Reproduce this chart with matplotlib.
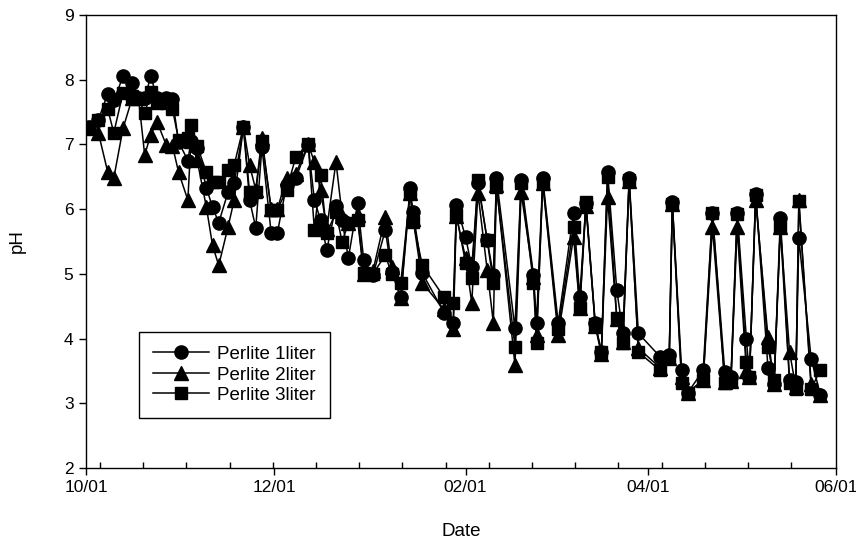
import matplotlib
matplotlib.use("Agg")
import matplotlib.pyplot as plt
import matplotlib.dates as mdates
import numpy as np
import pandas as pd

plt.rcParams['font.family'] = ['Liberation Sans', 'DejaVu Sans']

# sampling dates (Oct 2002 - May 2003)
dates = [
    "2002-10-02", "2002-10-05", "2002-10-08", "2002-10-10", "2002-10-13", "2002-10-16",
    "2002-10-18", "2002-10-20", "2002-10-22", "2002-10-24", "2002-10-27", "2002-10-29",
    "2002-10-31", "2002-11-03", "2002-11-04", "2002-11-06", "2002-11-09", "2002-11-11",
    "2002-11-13", "2002-11-16", "2002-11-18", "2002-11-21", "2002-11-23", "2002-11-25",
    "2002-11-27", "2002-11-30", "2002-12-02", "2002-12-05", "2002-12-08", "2002-12-12",
    "2002-12-14", "2002-12-16", "2002-12-18", "2002-12-21", "2002-12-23", "2002-12-25",
    "2002-12-28", "2002-12-30", "2003-01-02", "2003-01-06", "2003-01-08", "2003-01-11",
    "2003-01-14", "2003-01-15", "2003-01-18", "2003-01-25", "2003-01-28", "2003-01-29",
    "2003-02-01", "2003-02-03", "2003-02-05", "2003-02-08", "2003-02-10", "2003-02-11",
    "2003-02-17", "2003-02-19", "2003-02-23", "2003-02-24", "2003-02-26", "2003-03-03",
    "2003-03-08", "2003-03-10", "2003-03-12", "2003-03-15", "2003-03-17", "2003-03-19",
    "2003-03-22", "2003-03-24", "2003-03-26", "2003-03-29", "2003-04-05", "2003-04-08",
    "2003-04-09", "2003-04-12", "2003-04-14", "2003-04-19", "2003-04-22", "2003-04-26",
    "2003-04-28", "2003-04-30", "2003-05-03", "2003-05-04", "2003-05-06", "2003-05-10",
    "2003-05-12", "2003-05-14", "2003-05-17", "2003-05-19", "2003-05-20", "2003-05-24",
    "2003-05-27",
]

ph_1l = [
    7.27, 7.38, 7.78, 7.68, 8.05, 7.95, 7.72, 7.72, 8.05, 7.72, 7.72, 7.70,
    7.04, 6.75, 7.05, 6.94, 6.33, 6.03, 5.79, 6.26, 6.40, 7.27, 6.14, 5.71,
    6.96, 5.63, 5.63, 6.38, 6.48, 6.99, 6.14, 5.83, 5.37, 6.05, 5.83, 5.24,
    6.09, 5.21, 4.98, 5.68, 5.03, 4.64, 6.33, 5.95, 5.01, 4.40, 4.24, 6.06,
    5.57, 5.10, 6.40, 5.52, 4.98, 6.48, 4.16, 6.45, 4.98, 4.24, 6.48, 4.24,
    5.94, 4.64, 6.09, 4.24, 3.79, 6.58, 4.75, 4.08, 6.48, 4.08, 3.72, 3.74,
    6.11, 3.51, 3.16, 3.51, 5.94, 3.48, 3.40, 5.94, 4.00, 3.40, 6.24, 3.54,
    3.30, 5.87, 3.36, 3.33, 5.55, 3.68, 3.13,
]

ph_2l = [
    7.25, 7.18, 6.58, 6.48, 7.25, 7.72, 7.72, 6.84, 7.15, 7.35, 6.99, 6.98,
    6.57, 6.14, 7.05, 6.76, 6.03, 5.44, 5.13, 5.72, 6.14, 7.27, 6.68, 6.30,
    7.10, 6.00, 6.00, 6.48, 6.55, 7.00, 6.73, 6.30, 5.70, 6.73, 5.90, 5.79,
    5.91, 5.00, 5.05, 5.88, 5.10, 4.62, 6.25, 5.85, 4.86, 4.45, 4.14, 5.90,
    5.24, 4.55, 6.25, 5.06, 4.24, 6.38, 3.59, 6.26, 4.95, 4.05, 6.40, 4.05,
    5.57, 4.47, 6.05, 4.20, 3.76, 6.19, 4.30, 3.95, 6.43, 3.85, 3.55, 3.70,
    6.08, 3.40, 3.16, 3.36, 5.72, 3.33, 3.35, 5.72, 3.50, 3.40, 6.14, 4.02,
    3.30, 5.72, 3.79, 3.25, 6.14, 3.30, 3.13,
]

ph_3l = [
    7.27, 7.38, 7.55, 7.18, 7.80, 7.75, 7.72, 7.48, 7.81, 7.64, 7.64, 7.55,
    7.07, 7.10, 7.30, 6.98, 6.57, 6.42, 6.42, 6.60, 6.68, 7.27, 6.26, 6.26,
    7.05, 5.99, 5.99, 6.30, 6.81, 7.00, 5.68, 6.53, 5.63, 5.95, 5.49, 5.79,
    5.83, 5.01, 5.00, 5.29, 5.00, 4.86, 6.25, 5.80, 5.13, 4.64, 4.55, 5.91,
    5.17, 4.93, 6.45, 5.52, 4.86, 6.34, 3.87, 6.40, 4.86, 3.93, 6.42, 4.15,
    5.72, 4.47, 6.11, 4.22, 3.79, 6.50, 4.32, 3.93, 6.45, 3.79, 3.51, 3.70,
    6.08, 3.31, 3.16, 3.36, 5.94, 3.31, 3.35, 5.92, 3.64, 3.40, 6.22, 3.87,
    3.36, 5.72, 3.31, 3.22, 6.12, 3.22, 3.52,
]

labels = ["Perlite 1liter", "Perlite 2liter", "Perlite 3liter"]
x = pd.to_datetime(dates)

fig = plt.figure(figsize=(8.56, 5.46), dpi=100)
ax = fig.add_axes([0.1005, 0.143, 0.876, 0.8295])

ax.plot(x, ph_1l, color='black', marker='o', markersize=9.5, linewidth=1.1, label=labels[0])
ax.plot(x, ph_2l, color='black', marker='^', markersize=10, linewidth=1.1, label=labels[1])
ax.plot(x, ph_3l, color='black', marker='s', markersize=8.3, linewidth=1.1, label=labels[2])

start = pd.Timestamp("2002-10-01")
ax.set_xlim(start, pd.Timestamp("2003-06-01"))
ax.set_ylim(2, 9)

major = pd.to_datetime(["2002-10-01", "2002-12-01", "2003-02-01", "2003-04-01", "2003-06-01"])
ax.set_xticks(major)
ax.xaxis.set_major_formatter(mdates.DateFormatter('%m/%d'))
# two-week minor ticks
minor = mdates.date2num(start) + 4.5 + 14 * np.arange(17)
ax.xaxis.set_minor_locator(matplotlib.ticker.FixedLocator(minor))
ax.set_yticks(range(2, 10))

ax.tick_params(axis='both', which='major', direction='out', length=5, width=1,
               labelsize=12.5, pad=4)
ax.tick_params(axis='x', which='minor', direction='in', length=4, width=1)
for sp in ax.spines.values():
    sp.set_linewidth(1)

ax.set_xlabel("Date", fontsize=13.5, labelpad=20)
ax.set_ylabel("pH", fontsize=13.5, labelpad=27)

leg = ax.legend(loc='lower left', bbox_to_anchor=(0.07, 0.11), fontsize=13.5,
                frameon=True, fancybox=False, edgecolor='black', framealpha=1,
                handlelength=3.0, handletextpad=0.45, labelspacing=0.18,
                borderpad=0.75, borderaxespad=0)
leg.get_frame().set_linewidth(1)

fig.savefig("out.png", dpi=100)
